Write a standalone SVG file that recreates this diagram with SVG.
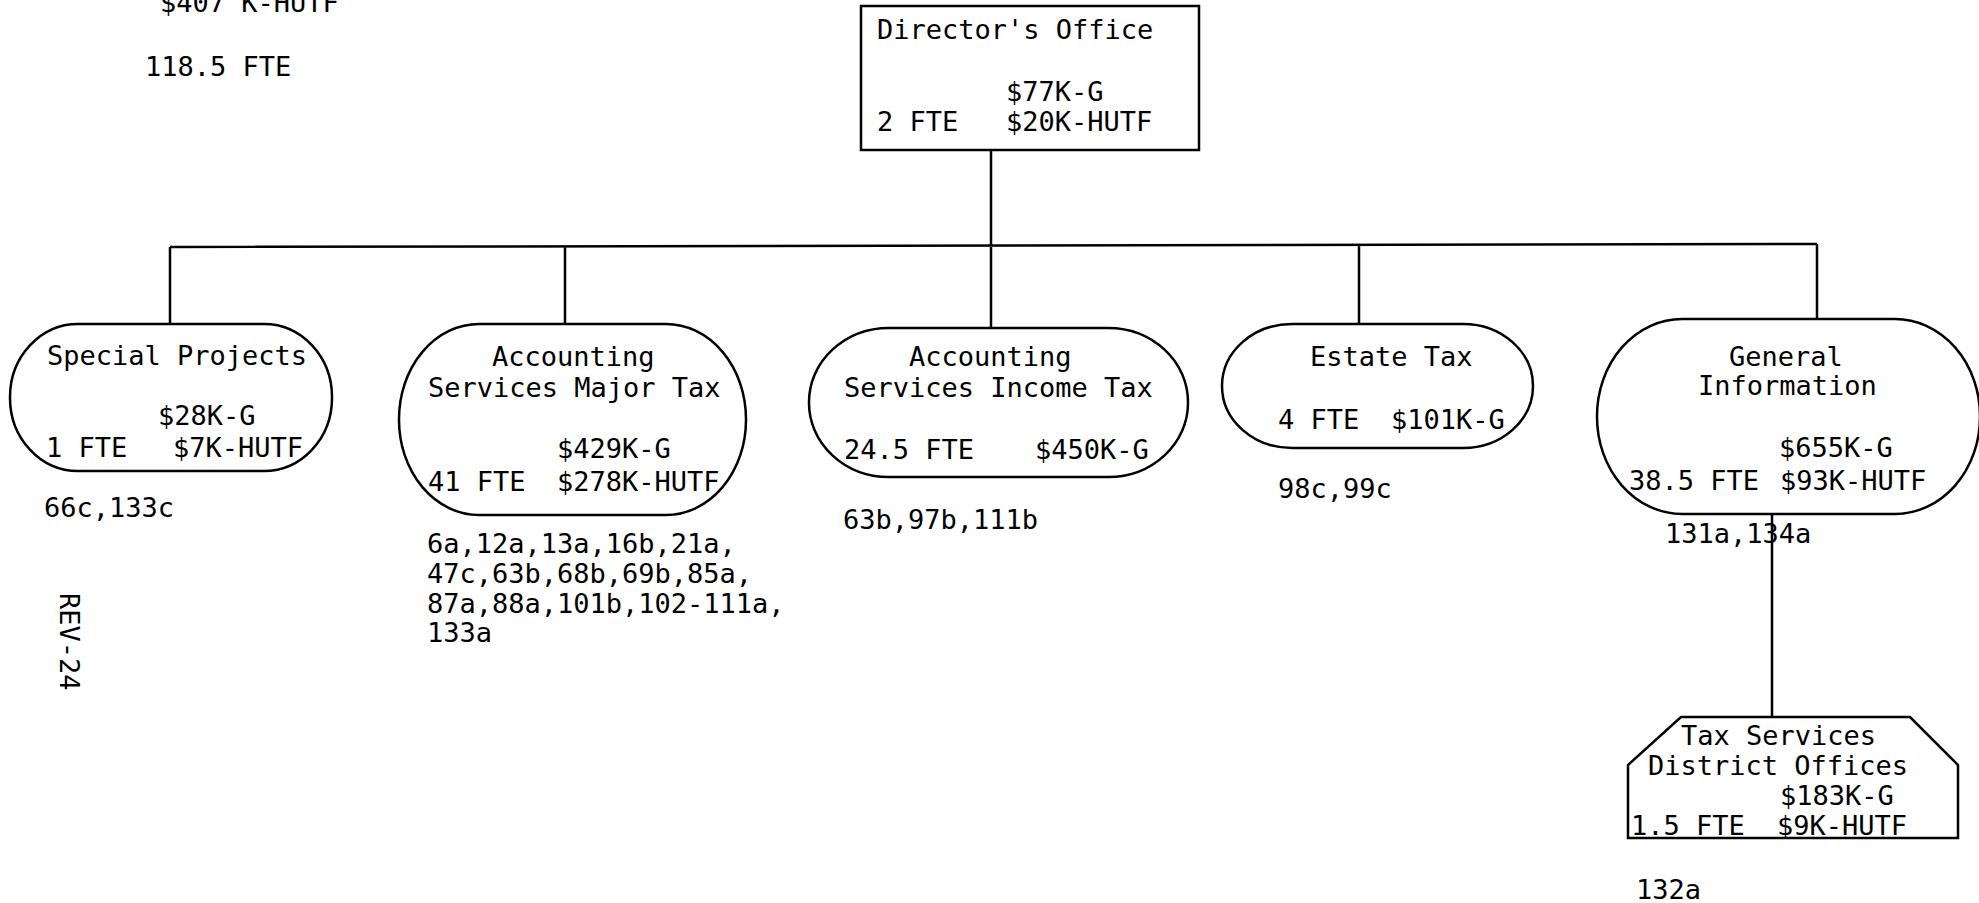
<svg xmlns="http://www.w3.org/2000/svg" width="1979" height="903" viewBox="0 0 1979 903">
<style>
.t{font-family:"DejaVu Sans Mono","Liberation Mono",monospace;font-size:27px;fill:#000}
.s{fill:#fff;stroke:#000;stroke-width:2.5}
.c{fill:none;stroke:#000;stroke-width:2.5}
</style>
<rect width="1979" height="903" fill="#fff"/>
<g id="totals">
<text class="t" x="160" y="12">$407 K-HUTF</text>
<text class="t" x="145" y="76">118.5 FTE</text>
</g>
<g id="connectors">
<path class="c" d="M991 150V246M170 247L1817 244M170 247V324M565 246V324M991 246V328M1359 245V324M1817 244V319M1772 514V717"/>
</g>
<g id="director">
<rect class="s" x="861" y="6" width="338" height="144"/>
<text class="t" x="877" y="39">Director's Office</text>
<text class="t" x="1006" y="101">$77K-G</text>
<text class="t" x="877" y="131">2 FTE</text>
<text class="t" x="1006" y="131">$20K-HUTF</text>
</g>
<g id="special">
<rect class="s" x="10" y="324" width="322" height="147" rx="68" ry="73"/>
<text class="t" x="47" y="365">Special Projects</text>
<text class="t" x="158" y="425">$28K-G</text>
<text class="t" x="46" y="457">1 FTE</text>
<text class="t" x="173" y="457">$7K-HUTF</text>
<text class="t" x="44" y="517">66c,133c</text>
</g>
<g id="major">
<rect class="s" x="399" y="324" width="347" height="191" rx="80" ry="95"/>
<text class="t" x="492" y="366">Accounting</text>
<text class="t" x="428" y="397">Services Major Tax</text>
<text class="t" x="557" y="458">$429K-G</text>
<text class="t" x="428" y="491">41 FTE</text>
<text class="t" x="557" y="491">$278K-HUTF</text>
<text class="t" x="427" y="553">6a,12a,13a,16b,21a,</text>
<text class="t" x="427" y="583">47c,63b,68b,69b,85a,</text>
<text class="t" x="427" y="613">87a,88a,101b,102-111a,</text>
<text class="t" x="427" y="642">133a</text>
</g>
<g id="income">
<rect class="s" x="809" y="328" width="379" height="149" rx="80" ry="74"/>
<text class="t" x="909" y="366">Accounting</text>
<text class="t" x="844" y="397">Services Income Tax</text>
<text class="t" x="844" y="459">24.5 FTE</text>
<text class="t" x="1035" y="459">$450K-G</text>
<text class="t" x="843" y="529">63b,97b,111b</text>
</g>
<g id="estate">
<rect class="s" x="1222" y="324" width="311" height="124" rx="70" ry="62"/>
<text class="t" x="1310" y="366">Estate Tax</text>
<text class="t" x="1278" y="429">4 FTE</text>
<text class="t" x="1391" y="429">$101K-G</text>
<text class="t" x="1278" y="498">98c,99c</text>
</g>
<g id="general">
<rect class="s" x="1597" y="319" width="383" height="195" rx="85" ry="97"/>
<text class="t" x="1729" y="366">General</text>
<text class="t" x="1698" y="395">Information</text>
<text class="t" x="1779" y="457">$655K-G</text>
<text class="t" x="1629" y="490">38.5 FTE</text>
<text class="t" x="1780" y="490">$93K-HUTF</text>
<text class="t" x="1665" y="543">131a,134a</text>
</g>
<g id="district">
<path class="s" d="M1681 717H1910L1958 765V838H1628V765Z"/>
<text class="t" x="1681" y="745">Tax Services</text>
<text class="t" x="1648" y="775">District Offices</text>
<text class="t" x="1780" y="805">$183K-G</text>
<text class="t" x="1631" y="835">1.5 FTE</text>
<text class="t" x="1777" y="835">$9K-HUTF</text>
<text class="t" x="1636" y="899">132a</text>
</g>
<g id="rev">
<text class="t" transform="translate(60 593) rotate(90)">REV-24</text>
</g>
</svg>
